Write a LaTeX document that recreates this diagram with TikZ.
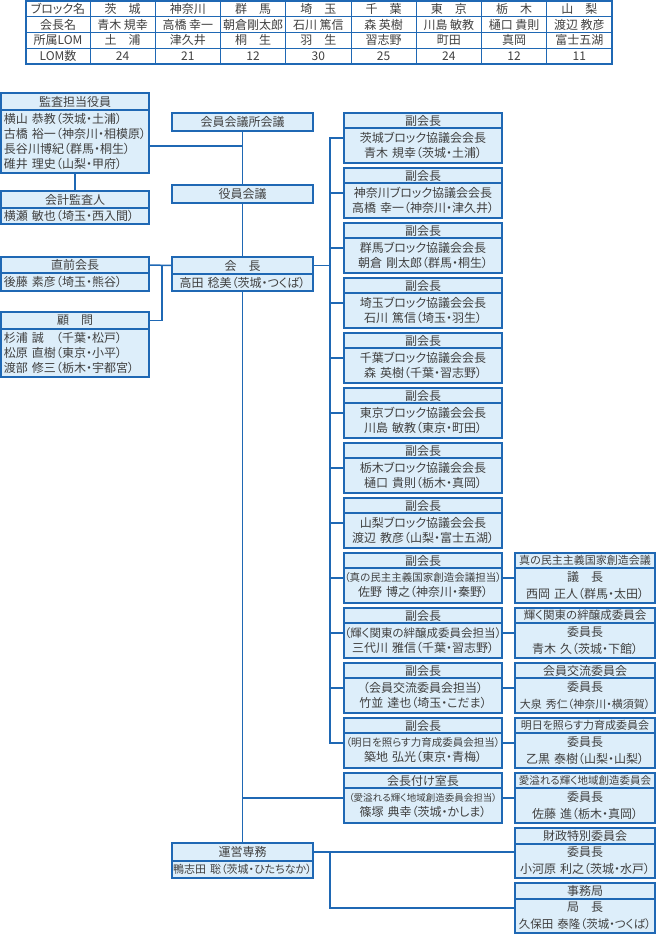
\documentclass[tikz,border=0pt]{standalone}
\usepackage{fontspec}
\setmainfont{Noto Sans CJK JP}[RawFeature=+palt]
\usetikzlibrary{positioning,calc}
\definecolor{boxline}{HTML}{1F68B4}
\definecolor{boxfill}{HTML}{DDEEFA}
\definecolor{txtgray}{HTML}{404040}
\newcommand\fsz[2]{{\fontsize{#1}{15}\selectfont #2}}

\begin{document}
\begin{tikzpicture}[x=1pt,y=-1pt,
  hd/.style={draw=boxline,fill=boxfill,line width=1.3pt,anchor=north west,inner sep=0pt,outer sep=0pt,text=txtgray,font=\fontsize{12}{15}\selectfont},
  bd/.style={draw=boxline,fill=boxfill,line width=1.3pt,anchor=north,inner xsep=0pt,inner ysep=0pt,outer sep=0pt,align=center,text=txtgray,font=\fontsize{12}{15}\selectfont},
  lbd/.style={bd,align=left,inner xsep=3pt},
  cbd/.style={bd,font=\fontsize{12}{17}\selectfont},
  cell/.style={draw=boxline,fill=white,line width=1pt,anchor=north west,inner sep=0pt,outer sep=0pt,minimum height=15.75,text=txtgray,font=\fontsize{12}{15}\selectfont},
  conn/.style={draw=boxline,line width=1.5pt,line cap=rect}]
\useasboundingbox (0,0) rectangle (656,934);
\fill[white] (0,0) rectangle (656,934);

% block table
\foreach \a/\b/\c/\d [count=\i] in {ブロック名/会長名/所属LOM/LOM数,
  茨　城/青木 規幸/土　浦/24, 神奈川/高橋 幸一/津久井/21, 群　馬/朝倉剛太郎/桐　生/12,
  埼　玉/石川 篤信/羽　生/30, 千　葉/森 英樹/習志野/25, 東　京/川島 敏教/町田/24,
  栃　木/樋口 貴則/真岡/12, 山　梨/渡辺 教彦/富士五湖/11}
{
  \pgfmathsetmacro\tx{\i==1 ? 26 : 90+65.25*(\i-2)}
  \pgfmathsetmacro\tw{\i==1 ? 64 : 65.25}
  \node[cell,minimum width=\tw] (t\i-1) at (\tx,1) {\a};
  \node[cell,minimum width=\tw] (t\i-2) at (t\i-1.south west) {\b};
  \node[cell,minimum width=\tw] (t\i-3) at (t\i-2.south west) {\c};
  \node[cell,minimum width=\tw] (t\i-4) at (t\i-3.south west) {\d};
}
\draw[boxline,line width=1.8pt] (t1-1.north west) rectangle (t9-4.south east);

% left column
\node[hd,minimum width=148,minimum height=17] (kansa) at (1,93) {監査担当役員};
\node[lbd,text width=142,minimum height=63] (kansa-b) at (kansa.south) {横山~恭教（茨城・土浦）\\古橋~裕一（神奈川・相模原）\\長谷川博紀（群馬・桐生）\\碓井~理史（山梨・甲府）};
\node[hd,minimum width=148,minimum height=17] (kaikei) at (1,191) {会計監査人};
\node[lbd,text width=142,minimum height=16] (kaikei-b) at (kaikei.south) {横瀬~敏也（埼玉・西入間）};
\node[hd,minimum width=148,minimum height=16] (zenkaicho) at (1,257) {直前会長};
\node[lbd,text width=142,minimum height=18] (zenkaicho-b) at (zenkaicho.south) {後藤~素彦（埼玉・熊谷）};
\node[hd,minimum width=148,minimum height=17] (komon) at (1,312) {顧　問};
\node[lbd,text width=142,minimum height=48] (komon-b) at (komon.south) {杉浦~誠　（千葉・松戸）\\松原~直樹（東京・小平）\\渡部~修三（栃木・宇都宮）};

% centre column
\node[hd,minimum width=141,minimum height=18] (kaigisho) at (172,113) {会員会議所会議};
\node[hd,minimum width=141,minimum height=18] (yakuin) at (172,185) {役員会議};
\node[hd,minimum width=141,minimum height=17] (kaicho) at (172,257) {会　長};
\node[bd,text width=141,minimum height=17] (kaicho-b) at (kaicho.south) {高田~稔美（茨城・つくば）};
\node[hd,minimum width=141,minimum height=18] (unei) at (172,843) {運営専務};
\node[bd,text width=141,minimum height=17] (unei-b) at (unei.south) {\fsz{11}{鴨志田~聡（茨城・ひたちなか）}};

% vice presidents
\foreach \h/\la/\lb [count=\k from 0] in {
  副会長/茨城ブロック協議会会長/青木~規幸（茨城・土浦）,
  副会長/神奈川ブロック協議会会長/高橋~幸一（神奈川・津久井）,
  副会長/群馬ブロック協議会会長/朝倉~剛太郎（群馬・桐生）,
  副会長/埼玉ブロック協議会会長/石川~篤信（埼玉・羽生）,
  副会長/千葉ブロック協議会会長/森~英樹（千葉・習志野）,
  副会長/東京ブロック協議会会長/川島~敏教（東京・町田）,
  副会長/栃木ブロック協議会会長/樋口~貴則（栃木・真岡）,
  副会長/山梨ブロック協議会会長/渡辺~教彦（山梨・富士五湖）,
  副会長/\fsz{10.5}{（真の民主主義国家創造会議担当）}/佐野~博之（神奈川・秦野）,
  副会長/\fsz{11.5}{（輝く関東の絆醸成委員会担当）}/三代川~雅信（千葉・習志野）,
  副会長/（会員交流委員会担当）/竹並~達也（埼玉・こだま）,
  副会長/\fsz{10.5}{（明日を照らす力育成委員会担当）}/築地~弘光（東京・青梅）,
  会長付け室長/\fsz{9.5}{（愛溢れる輝く地域創造委員会担当）}/篠塚~典幸（茨城・かしま）}
{
  \node[hd,minimum width=158,minimum height=15] (vp\k) at (344,113+55*\k) {\h};
  \node[bd,text width=158,minimum height=35] (vp\k-b) at (vp\k.south) {\la\\\lb};
  \coordinate (vp\k-w) at ($(vp\k.north west)!.5!(vp\k-b.south west)$);
  \coordinate (vp\k-e) at ($(vp\k.north east)!.5!(vp\k-b.south east)$);
}

% committees
\foreach \k/\h/\la/\lb in {
  8/\fsz{11}{真の民主主義国家創造会議}/議　長/西岡~正人（群馬・太田）,
  9/\fsz{11.5}{輝く関東の絆醸成委員会}/委員長/青木~久（茨城・下館）,
  10/会員交流委員会/委員長/\fsz{11}{大泉~秀仁（神奈川・横須賀）},
  11/\fsz{11}{明日を照らす力育成委員会}/委員長/乙黒~泰樹（山梨・山梨）,
  12/\fsz{10.5}{愛溢れる輝く地域創造委員会}/委員長/佐藤~進（栃木・真岡）}
{
  \node[hd,minimum width=140,minimum height=15] (cm\k) at (515,113+55*\k) {\h};
  \node[cbd,text width=140,minimum height=35] (cm\k-b) at (cm\k.south) {\la\\\lb};
  \coordinate (cm\k-w) at ($(cm\k.north west)!.5!(cm\k-b.south west)$);
}
\node[hd,minimum width=140,minimum height=16] (zaisei) at (515,828) {財政特別委員会};
\node[cbd,text width=140,minimum height=34] (zaisei-b) at (zaisei.south) {委員長\\小河原~利之（茨城・水戸）};
\coordinate (zaisei-w) at ($(zaisei.north west)!.5!(zaisei-b.south west)$);
\node[hd,minimum width=140,minimum height=16] (jimu) at (515,883) {事務局};
\node[cbd,text width=140,minimum height=34] (jimu-b) at (jimu.south) {局　長\\\fsz{11.5}{久保田~泰隆（茨城・つくば）}};
\coordinate (jimu-w) at ($(jimu.north west)!.5!(jimu-b.south west)$);

% connectors
\coordinate (kansa-e) at ([yshift=-4.5pt]kansa-b.east);
\coordinate (bus) at ([xshift=17pt]kaicho.east);
\draw[conn] (kaigisho.south) -- (yakuin.north);
\draw[conn] (yakuin.south) -- (kaicho.north);
\draw[conn] (kaicho-b.south) -- (unei.north);
\draw[conn] (kansa-e) -- (kansa-e -| kaigisho.south);
\draw[conn] (kansa-b.south) -- (kaikei.north);
\draw[conn] (zenkaicho.east) -- (kaicho.west);
\draw[conn] (komon.east) -| ($(zenkaicho.east)!.56!(kaicho.west)$);
\draw[conn] (kaicho.east) -- (bus);
\draw[conn] (vp0-w -| bus) -- (vp11-w -| bus);
\foreach \k in {0,...,11}
  \draw[conn] (vp\k-w -| bus) -- (vp\k-w);
\draw[conn] (vp12-w) -- (vp12-w -| kaicho.south);
\foreach \k in {8,...,12}
  \draw[conn] (vp\k-e) -- (cm\k-w);
\draw[conn] (unei.east) -- (unei.east -| zaisei-w);
\draw[conn] (jimu-w) -| (unei.east -| bus);
\end{tikzpicture}
\end{document}
